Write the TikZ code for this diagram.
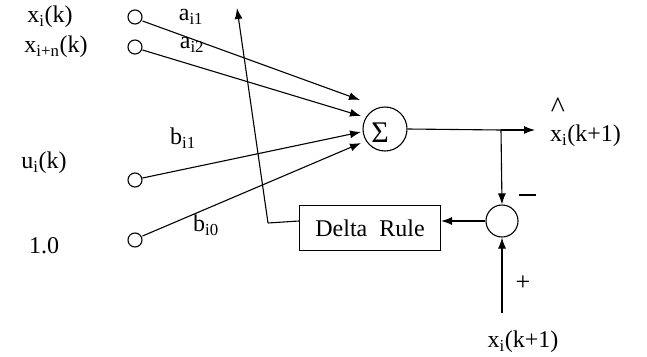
\documentclass[tikz,border=0pt]{standalone}
\usepackage{fontspec}
\setmainfont{Liberation Serif}
\usetikzlibrary{arrows.meta}
\begin{document}
\begin{tikzpicture}[x=1pt,y=-1pt,
  lbl/.style={font=\fontsize{24}{28}\selectfont, inner sep=0pt},
  inp/.style={draw, circle, line width=1.1pt, minimum size=14pt, inner sep=0pt},
  conn/.style={line width=1.1pt, -{Latex[length=11pt,width=8pt]}},
  line/.style={line width=1.1pt}]
\useasboundingbox (0,0) rectangle (647,356);
% input terminals
\node[inp] (i1) at (135,17) {};
\node[inp] (i2) at (135,47) {};
\node[inp] (i3) at (135,180) {};
\node[inp] (i4) at (135,240) {};
% input labels
\node[lbl] (l1) at (50,17) {x\textsubscript{i}(k)};
\node[lbl] (l2) at (56,47) {x\textsubscript{i+n}(k)};
\node[lbl] (l3) at (44,163) {u\textsubscript{i}(k)};
\node[lbl] (l4) at (44,246) {1.0};
% weights
\node[lbl] (w1) at (191,17) {a\textsubscript{i1}};
\node[lbl] (w2) at (192,45) {a\textsubscript{i2}};
\node[lbl] (w3) at (183,138) {b\textsubscript{i1}};
\node[lbl] (w4) at (206,225) {b\textsubscript{i0}};
% summation
\node[draw, circle, line width=1.1pt, minimum size=44pt, inner sep=0pt] (sum) at (385,129) {};
\node[font=\fontsize{30}{32}\selectfont, inner sep=0pt] (sig) at (380,133) {Σ};
\coordinate (t1) at (360,100);
\coordinate (t2) at (361,116);
\coordinate (t3) at (361,132);
\coordinate (t4) at (361,143);
\draw[conn] (i1.east) ++(0,4) -- (t1);
\draw[conn] (i2.east) ++(0,3) -- (t2);
\draw[conn] (i3.east) ++(0,-2) -- (t3);
\draw[conn] (i4.east) ++(0,-4) -- (t4);
% output
\coordinate (jn) at (501,130);
\coordinate (oend) at (535,130);
\draw[line] (sum.east) -- (jn);
\draw[conn] (jn) -- (oend);
\node[lbl, anchor=west] (out) at (550,136) {x\textsubscript{i}(k+1)};
\node[lbl, font=\fontsize{30}{32}\selectfont] (hat) at (558,108) {\^{}};
% difference
\node[draw, circle, line width=1.1pt, minimum size=32pt, inner sep=0pt] (diff) at (502,221) {};
\draw[conn] (jn) -- (diff.north);
\node[lbl] (minus) at (527,195) {\rule{17pt}{1.2pt}};
\coordinate (bot) at (502,313);
\draw[conn] (bot) -- (diff.south);
\node[lbl, font=\fontsize{26}{28}\selectfont] (plus) at (523,283) {+};
\node[lbl] (tgt) at (523,342) {x\textsubscript{i}(k+1)};
% delta rule
\node[draw, line width=1.1pt, minimum width=141pt, minimum height=45pt, inner sep=0pt, lbl] (dr) at (370,228) {Delta\ \ Rule};
\draw[conn] (diff.west) -- (diff.west -| dr.east);
\coordinate (bend) at (268,223);
\coordinate (top) at (237,8);
\draw[line] (dr.west |- diff.west) -- (bend);
\draw[conn] (bend) -- (top);
\end{tikzpicture}
\end{document}
